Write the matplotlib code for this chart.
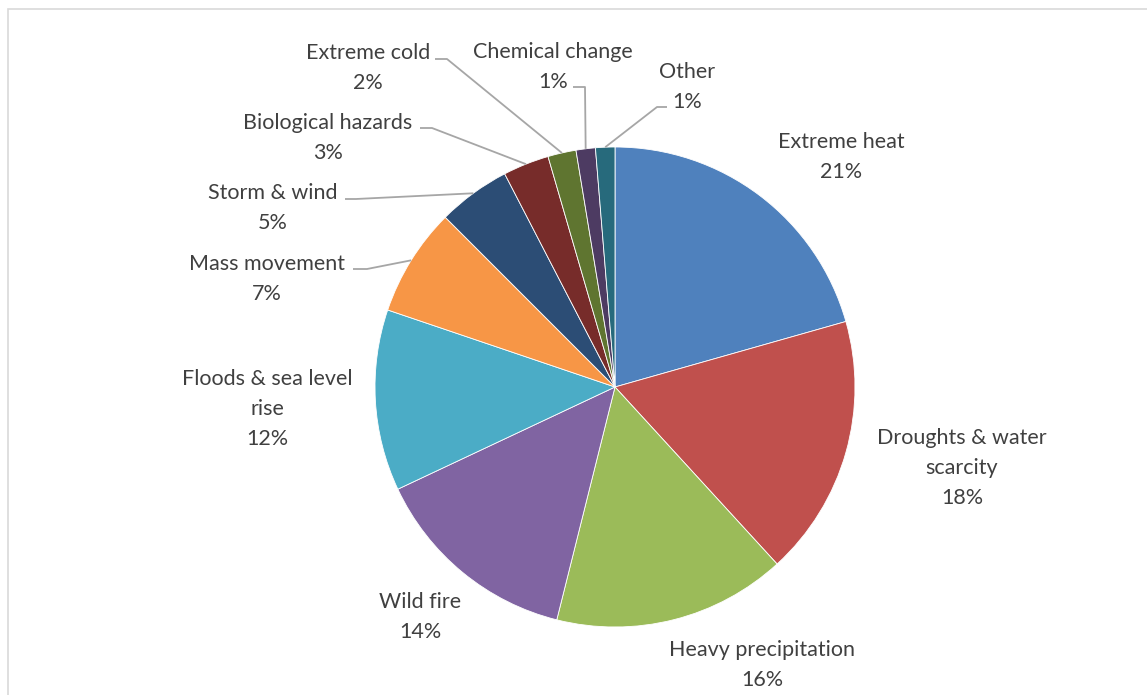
"""Pie chart: share of climate hazards."""

import matplotlib

matplotlib.use("Agg")
import matplotlib.pyplot as plt   # noqa: E402
import numpy as np                # noqa: E402
from matplotlib.patches import Rectangle  # noqa: E402

categories = [
    "Extreme heat", "Droughts & water\nscarcity", "Heavy precipitation",
    "Wild fire", "Floods & sea level\nrise", "Mass movement", "Storm & wind",
    "Biological hazards", "Extreme cold", "Chemical change", "Other",
]
shares = [20.6, 17.6, 15.7, 14.1, 12.2, 7.3, 4.9, 3.1, 1.9, 1.3, 1.3]
colors = [
    "#4F81BD", "#C0504D", "#9BBB59", "#8064A2", "#4BACC6", "#F79646",
    "#2C4D75", "#772C2A", "#5F7530", "#4D3B62", "#276A7C",
]

W, H = 1147, 695
CX, CY, R = 615, 387, 240          # pie centre / radius in pixels (y down)

# label block centres (pixels, y down)
label_pos = [
    (841, 157), (962, 468), (762, 665), (420, 617), (267, 409),
    (267, 279), (273, 208), (328, 138), (368, 68), (553, 67), (687, 87),
]
# leader lines: (start, elbow) in pixels, None = no leader
leaders = [
    None, None, None, None, None,
    ((353, 269), (367, 269)),
    ((345, 199), (356, 199)),
    ((420, 128), (432, 128)),
    ((435, 59), (447, 59)),
    ((573, 87), (585, 87)),
    ((667, 107), (657, 107)),
]

TEXT = "#404040"
LINE = "#A6A6A6"


def main() -> None:
    plt.rcParams["font.family"] = ["Lato", "DejaVu Sans"]
    fig = plt.figure(figsize=(W / 100, H / 100), dpi=100)
    ax = fig.add_axes([0, 0, 1, 1])
    ax.set_xlim(0, W)
    ax.set_ylim(0, H)
    ax.set_aspect("equal")
    ax.axis("off")

    ax.add_patch(Rectangle((8, -20), W + 20, H - 9 + 20, fill=False,
                           edgecolor="#D9D9D9", lw=1.2))

    wedges, _ = ax.pie(
        shares, colors=colors, startangle=90, counterclock=False,
        center=(CX, H - CY), radius=R, frame=True,
        wedgeprops=dict(edgecolor="white", linewidth=0.6),
    )
    ax.set_xlim(0, W)
    ax.set_ylim(0, H)
    ax.axis("off")

    total = sum(shares)
    for w, name, val, pos, lead in zip(wedges, categories, shares,
                                       label_pos, leaders):
        ax.text(pos[0], H - pos[1], f"{name}\n{val / total * 100:.0f}%",
                ha="center", va="center", fontsize=15.5, color=TEXT,
                linespacing=1.62)
        if lead is None:
            continue
        mid = np.deg2rad((w.theta1 + w.theta2) / 2)
        ex = CX + R * np.cos(mid)
        ey = (H - CY) + R * np.sin(mid)
        xs = [lead[0][0], lead[1][0], ex]
        ys = [H - lead[0][1], H - lead[1][1], ey]
        ax.plot(xs, ys, color=LINE, lw=1.3, solid_capstyle="butt")

    fig.savefig("out.png", dpi=100)
    plt.close(fig)


if __name__ == "__main__":
    main()
